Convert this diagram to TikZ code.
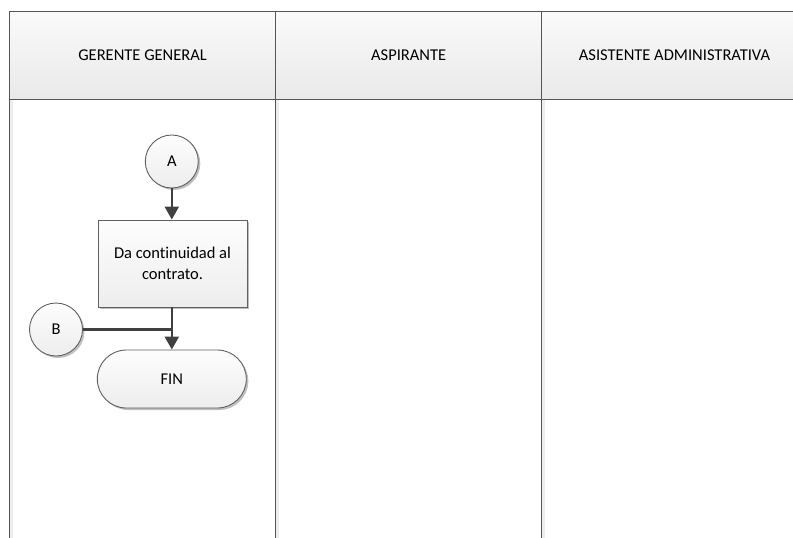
\documentclass[tikz,border=0pt]{standalone}
\usepackage{fontspec}
\setmainfont{Carlito}[Ligatures=NoCommon]
\usetikzlibrary{arrows.meta,shadows}
\definecolor{laneline}{HTML}{555555}
\definecolor{shapeline}{HTML}{606060}
\definecolor{flowline}{HTML}{404040}
\definecolor{hdrtop}{HTML}{FAFAFA}
\definecolor{hdrbot}{HTML}{E9E9E9}
\definecolor{shtop}{HTML}{FDFDFD}
\definecolor{shbot}{HTML}{EDEDED}
\tikzset{
  lane/.style={draw=laneline,line width=1.1pt},
  hdrtext/.style={font=\fontsize{16.5}{20}\selectfont,text=black},
  shp/.style={draw=shapeline,line width=0.9pt,top color=shtop,bottom color=shbot,
    drop shadow={shadow xshift=2pt,shadow yshift=-2pt,opacity=0.25,fill=black},
    font=\fontsize{16.5}{20.5}\selectfont,align=center,inner sep=0pt},
  conn/.style={shp,circle,minimum size=53pt},
  proc/.style={shp,rectangle,minimum width=149pt,minimum height=87pt},
  term/.style={shp,rectangle,rounded corners=29pt,minimum width=149pt,minimum height=58pt},
  flow/.style={draw=flowline,line width=2.4pt,-{Triangle[length=13pt,width=14pt]}},
  plain/.style={draw=flowline,line width=2.4pt}
}
\begin{document}
\begin{tikzpicture}[x=1pt,y=-1pt]
\useasboundingbox (0,0) rectangle (793,538);
% header band
\shade[top color=hdrtop,bottom color=hdrbot] (9.5,11.5) rectangle (793,99.3);
% lane shadows
\foreach \xx in {9.5,275.7,541.7}{
  \fill[black!7] (\xx+0.6,99.3) rectangle (\xx+3,538);
}
% lane lines
\draw[lane] (9.5,538) -- (9.5,11.5) -- (793,11.5);
\draw[lane] (9.5,99.3) -- (793,99.3);
\draw[lane] (275.7,11.5) -- (275.7,538);
\draw[lane] (541.7,11.5) -- (541.7,538);
% header texts
\node[hdrtext] (h1) at (142.6,55.4) {GERENTE GENERAL};
\node[hdrtext] (h2) at (408.7,55.4) {ASPIRANTE};
\node[hdrtext] (h3) at (674.5,55.4) {ASISTENTE ADMINISTRATIVA};
% shapes
\node[conn] (A) at (171.8,161.5) {A};
\node[proc] (P) at (172.5,263.5) {Da continuidad al\\contrato.};
\node[conn] (B) at (56,329.5) {B};
\node[term] (F) at (171.8,379) {FIN};
\coordinate (J) at (P.south |- B.east);
% connectors
\draw[flow] (A) -- (A |- P.north);
\draw[plain] (B) -- (J);
\draw[flow] (P.south -| A) -- (A |- F.north);
\end{tikzpicture}
\end{document}
